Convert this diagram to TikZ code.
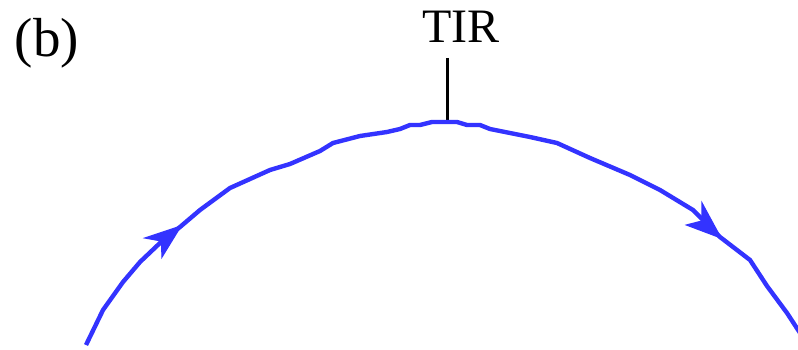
\documentclass[tikz,border=0pt]{standalone}
\usepackage{fontspec}
\setmainfont{Liberation Serif}
\definecolor{rayblue}{RGB}{51,51,255}
\begin{document}
\begin{tikzpicture}[x=1pt,y=-1pt,
  ray/.style={draw=rayblue,line width=4.4pt,line join=round},
  tiphead/.style={fill=rayblue,draw=rayblue,line width=1.2pt,line join=miter},
  lbl/.style={inner sep=0pt,anchor=base}]
\useasboundingbox (0,0) rectangle (798,350);
\node[lbl,font=\fontsize{55}{60}\selectfont] (panel) at (47,57) {(b)};
\node[lbl,font=\fontsize{48}{52}\selectfont] (tir) at (461,43) {TIR};
\coordinate (top) at (447,122);
\coordinate (marktop) at (447,58);
\draw[line width=3pt] (marktop) -- (top);
\draw[ray] (86,345) -- (103,310) -- (123,282) -- (140,262) -- (160,243) -- (180,227)
  -- (200,210) -- (230,188) -- (270,170) -- (290,164) -- (320,151) -- (333,143)
  -- (360,136) -- (387,132) -- (400,129) -- (410,125) -- (420,125) -- (432,122)
  -- (top) -- (457,122) -- (467,125) -- (480,125) -- (490,129) -- (510,133) -- (530,137)
  -- (557,143) -- (590,158) -- (630,175) -- (660,190) -- (693,210) -- (720,237)
  -- (750,260) -- (767,286) -- (787,313) -- (802,336);
\fill[tiphead] (181,226) -- (145,238) -- (161.5,241) -- (162,257) -- cycle;
\fill[tiphead] (721,238) -- (702,203) -- (702,221) -- (686.5,225) -- cycle;
\end{tikzpicture}
\end{document}
